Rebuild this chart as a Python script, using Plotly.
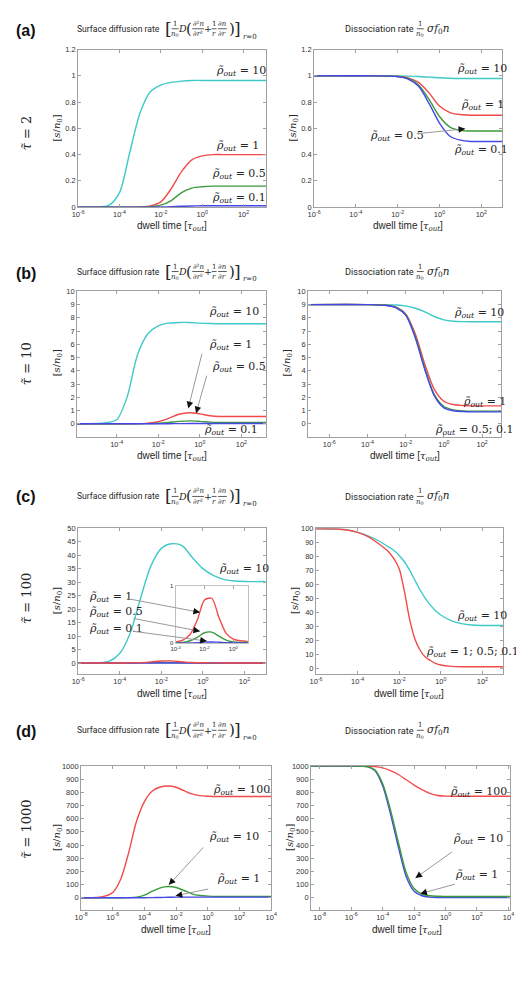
import plotly.graph_objects as go

W, H = 516, 981

# ---------------- data (x given as log10 of dwell time) ----------------
A_L_EXP = [-6, -5, -4.5, -4, -3.5, -3, -2.5, -2, -1.5, -1, -0.5, 0, 0.5, 1, 2, 3.1]
A_L_CYAN = [0, 0.002, 0.015, 0.11, 0.42, 0.72, 0.88, 0.93, 0.95, 0.96, 0.965, 0.965, 0.965, 0.965, 0.965, 0.965]
A_L_RED = [0, 0, 0, 0, 0, 0.002, 0.01, 0.04, 0.14, 0.27, 0.36, 0.39, 0.40, 0.40, 0.40, 0.40]
A_L_GREEN = [0, 0, 0, 0, 0, 0, 0.003, 0.015, 0.05, 0.11, 0.145, 0.155, 0.16, 0.16, 0.16, 0.16]
A_L_BLUE = [0, 0, 0, 0, 0, 0, 0, 0.001, 0.003, 0.007, 0.009, 0.01, 0.01, 0.01, 0.01, 0.01]

A_R_EXP = [-6, -3, -2, -1.5, -1, -0.5, 0, 0.5, 1, 1.5, 2, 3]
A_R_CYAN = [1, 1, 1, 0.998, 0.995, 0.99, 0.985, 0.982, 0.98, 0.98, 0.98, 0.98]
A_R_RED = [1, 1, 0.995, 0.985, 0.95, 0.87, 0.77, 0.72, 0.705, 0.70, 0.70, 0.70]
A_R_GREEN = [1, 1, 0.995, 0.98, 0.93, 0.82, 0.69, 0.61, 0.585, 0.58, 0.58, 0.58]
A_R_BLUE = [1, 1, 0.995, 0.975, 0.92, 0.79, 0.64, 0.54, 0.51, 0.50, 0.50, 0.50]

B_L_EXP = [-6, -5, -4.5, -4, -3.5, -3, -2.5, -2, -1.5, -1, -0.5, 0, 0.5, 1, 2, 3.2]
B_L_CYAN = [0, 0.02, 0.08, 0.3, 2.0, 5.2, 6.8, 7.4, 7.6, 7.65, 7.65, 7.6, 7.57, 7.55, 7.55, 7.55]
B_L_RED = [0, 0, 0, 0, 0, 0.01, 0.05, 0.15, 0.4, 0.72, 0.83, 0.75, 0.6, 0.55, 0.55, 0.55]
B_L_GREEN = [0, 0, 0, 0, 0, 0, 0.01, 0.04, 0.1, 0.18, 0.22, 0.18, 0.12, 0.1, 0.1, 0.1]
B_L_BLUE = [0, 0, 0, 0, 0, 0, 0, 0.002, 0.005, 0.01, 0.015, 0.02, 0.02, 0.02, 0.02, 0.02]

B_R_EXP = [-7.1, -4, -3, -2.5, -2, -1.5, -1, -0.5, 0, 0.5, 1, 1.5, 3]
B_R_CYAN = [9, 9, 8.99, 8.97, 8.9, 8.72, 8.45, 8.1, 7.85, 7.74, 7.71, 7.7, 7.7]
B_R_RED = [9, 9, 8.95, 8.8, 8.3, 6.8, 4.5, 2.6, 1.7, 1.45, 1.38, 1.35, 1.35]
B_R_GREEN = [9, 9, 8.94, 8.78, 8.25, 6.6, 4.2, 2.2, 1.3, 1.05, 0.97, 0.95, 0.95]
B_R_BLUE = [9, 9, 8.93, 8.76, 8.2, 6.5, 4.1, 2.1, 1.2, 0.98, 0.92, 0.9, 0.9]

C_L_EXP = [-6, -5, -4.5, -4, -3.5, -3, -2.5, -2, -1.5, -1, -0.5, 0, 0.5, 1, 1.5, 2, 3]
C_L_CYAN = [0, 0.1, 0.7, 3.5, 11, 24, 36, 42.5, 44.2, 43.5, 39, 35, 32.5, 31, 30.4, 30.2, 30.2]
C_L_RED = [0, 0, 0.01, 0.02, 0.05, 0.15, 0.4, 0.75, 0.78, 0.45, 0.17, 0.07, 0.04, 0.03, 0.03, 0.03, 0.03]
C_L_GREEN = [0, 0, 0, 0, 0.01, 0.04, 0.1, 0.18, 0.19, 0.12, 0.05, 0.02, 0.01, 0.01, 0.01, 0.01, 0.01]
C_L_BLUE = [0, 0, 0, 0, 0, 0.002, 0.008, 0.018, 0.02, 0.015, 0.008, 0.005, 0.004, 0.004, 0.004, 0.004, 0.004]

C_R_EXP = [-6, -5, -4.5, -4, -3.5, -3, -2.5, -2.25, -2, -1.75, -1.5, -1.25, -1, -0.75, -0.5, -0.25, 0, 0.5, 1, 1.5, 2, 3]
C_R_CYAN = [99.5, 99.4, 98.8, 97, 94.5, 91, 86.5, 84, 80.5, 76, 70, 63, 56, 50, 45, 41, 38, 34, 31.8, 30.8, 30.5, 30.5]
C_R_RED = [99.5, 99.4, 98.7, 97, 94, 89, 83, 78, 71, 55, 35, 21, 13, 8, 5.5, 3.5, 2.3, 1.3, 1, 1, 1, 1]

D_L_EXP = [-8, -7, -6.5, -6, -5.5, -5, -4.5, -4, -3.5, -3, -2.5, -2, -1.5, -1, -0.5, 0, 1, 4]
D_L_RED = [0, 2, 12, 40, 140, 340, 580, 730, 810, 840, 848, 838, 812, 788, 775, 770, 768, 768]
D_L_GREEN = [0, 0, 0, 0, 0, 1, 5, 20, 50, 75, 85, 78, 55, 30, 17, 12, 10, 10]
D_L_BLUE = [0, 0, 0, 0, 0, 0, 0, 0.5, 1, 2, 3.5, 4.5, 5, 5, 5, 5, 5, 5]

D_R_EXP = [-8.55, -6, -5, -4.5, -4, -3.5, -3, -2.5, -2, -1.5, -1, -0.5, 0, 1, 4.1]
D_R_RED = [1000, 1000, 999, 995, 985, 965, 935, 895, 855, 820, 792, 776, 771, 770, 770]
D_R_GREEN = [1000, 1000, 995, 970, 865, 665, 420, 190, 70, 28, 15, 11, 10, 10, 10]
D_R_BLUE = [1000, 1000, 995, 965, 850, 635, 385, 160, 50, 15, 5, 2, 1, 1, 1]

ROW_TAU = ["2", "10", "100", "1000"]
ROW_TAGS = ["(a)", "(b)", "(c)", "(d)"]

CYAN = "#3fc9c9"
RED = "#f24a4a"
GREEN = "#3b9a3b"
BLUE = "#4747e8"
AXC = "#a0a0a0"
TXT = "#262626"
SERIF = "DejaVu Serif"
SANS = "Liberation Sans"


def xs(exps):
    return [10 ** e for e in exps]


def pow_label(e):
    return "10<sup>%d</sup>" % e


fig = go.Figure()
layout = {}

# panel geometry in pixels: (x0, x1, y0, y1), x log range, y range, y ticks, x ticks (exponents)
panels = [
    ((73, 266, 46, 205), [-6, 3.1], [0, 1.2], [0, 0.2, 0.4, 0.6, 0.8, 1, 1.2], [-6, -4, -2, 0, 2]),
    ((315, 508, 46, 205), [-6, 3], [0, 1.2], [0, 0.2, 0.4, 0.6, 0.8, 1, 1.2], [-6, -4, -2, 0, 2]),
    ((72, 266, 290, 437), [-5.9, 3.2], [-1, 10], list(range(0, 11)), [-6, -4, -2, 0, 2]),
    ((309, 507, 290, 437), [-7.1, 3.0], [-1, 10], list(range(0, 11)), [-6, -4, -2, 0, 2]),
    ((73, 266, 529, 676), [-6, 3.05], [-4, 50], list(range(0, 51, 5)), [-6, -4, -2, 0, 2]),
    ((317, 509, 529, 676), [-6, 3], [-4, 100], list(range(0, 101, 10)), [-6, -4, -2, 0, 2]),
    ((76, 271, 769, 914), [-8, 4], [-90, 1000], list(range(0, 1001, 100)), [-8, -6, -4, -2, 0, 2, 4]),
    ((312, 516, 769, 914), [-8.55, 4.1], [-90, 1000], list(range(0, 1001, 100)), [-8, -6, -4, -2, 0, 2, 4]),
    ((173, 247, 587, 645), [-4, 1], [0, 1], [0, 1], [-4, -2, 0]),  # inset
]


def ylab(v):
    if abs(v - round(v)) < 1e-9:
        return str(int(round(v)))
    return ("%g" % v)


for i, (box, xr, yr, yt, xt) in enumerate(panels):
    k = "" if i == 0 else str(i + 1)
    x0, x1, y0, y1 = box
    inset = i == 8
    fs = 6 if inset else 7.5
    lc = "#c0c0c0" if inset else AXC
    layout["xaxis" + k] = dict(
        domain=[x0 / W, x1 / W], anchor="y" + k, type="log", range=xr,
        tickvals=[10 ** e for e in xt], ticktext=[pow_label(e) for e in xt],
        ticks="inside", ticklen=3, tickcolor=AXC, showline=True, linecolor=lc,
        linewidth=1, mirror="ticks", showgrid=False, zeroline=False,
        tickfont=dict(family=SANS, size=fs, color="#333"),
    )
    layout["yaxis" + k] = dict(
        domain=[1 - y1 / H, 1 - y0 / H], anchor="x" + k, range=yr,
        tickvals=yt, ticktext=[ylab(v) for v in yt],
        ticks="inside", ticklen=3, tickcolor=AXC, showline=True, linecolor=lc,
        linewidth=1, mirror="ticks", showgrid=False, zeroline=False,
        tickfont=dict(family=SANS, size=fs, color="#333"),
    )

series = [
    (0, A_L_EXP, [(A_L_CYAN, CYAN), (A_L_RED, RED), (A_L_GREEN, GREEN), (A_L_BLUE, BLUE)]),
    (1, A_R_EXP, [(A_R_CYAN, CYAN), (A_R_RED, RED), (A_R_GREEN, GREEN), (A_R_BLUE, BLUE)]),
    (2, B_L_EXP, [(B_L_CYAN, CYAN), (B_L_RED, RED), (B_L_GREEN, GREEN), (B_L_BLUE, BLUE)]),
    (3, B_R_EXP, [(B_R_CYAN, CYAN), (B_R_RED, RED), (B_R_GREEN, GREEN), (B_R_BLUE, BLUE)]),
    (4, C_L_EXP, [(C_L_CYAN, CYAN), (C_L_GREEN, GREEN), (C_L_BLUE, BLUE), (C_L_RED, RED)]),
    (5, C_R_EXP, [(C_R_CYAN, CYAN), (C_R_RED, RED)]),
    (6, D_L_EXP, [(D_L_RED, RED), (D_L_GREEN, GREEN), (D_L_BLUE, BLUE)]),
    (7, D_R_EXP, [(D_R_RED, RED), (D_R_BLUE, BLUE), (D_R_GREEN, GREEN)]),
    (8, C_L_EXP, [(C_L_RED, RED), (C_L_GREEN, GREEN), (C_L_BLUE, BLUE)]),
]

for idx, exps, curves in series:
    k = "" if idx == 0 else str(idx + 1)
    for ys, col in curves:
        fig.add_trace(go.Scatter(
            x=xs(exps), y=ys, mode="lines", xaxis="x" + k, yaxis="y" + k,
            line=dict(color=col, width=1.4, shape="spline", smoothing=0.8),
            showlegend=False, hoverinfo="skip", cliponaxis=True,
        ))

ann = []
shapes = []


def P(x, y):
    return x / W, 1 - y / H


def text(x, y, t, size=10, family=SANS, xanchor="center", angle=0, color=TXT):
    px, py = P(x, y)
    ann.append(dict(x=px, y=py, xref="paper", yref="paper", text=t, showarrow=False,
                    xanchor=xanchor, yanchor="middle", textangle=angle,
                    font=dict(family=family, size=size, color=color)))


def hbar(x0, x1, y):
    a, b = P(x0, y)
    c, d = P(x1, y)
    shapes.append(dict(type="line", xref="paper", yref="paper", x0=a, x1=c, y0=b, y1=d,
                       line=dict(color="#333", width=0.8)))


def frac(xc, y, num, den, half):
    text(xc, y - 5, num, size=7, family=SERIF)
    text(xc, y + 5.5, den, size=7, family=SERIF)
    hbar(xc - half, xc + half, y)


def rho(x, y, val):
    text(x, y, "<i>ρ̃<sub>out</sub></i> = " + val, size=11, family=SERIF, xanchor="left")


def arrow(tx, ty, hx, hy):
    px, py = P(hx, hy)
    ann.append(dict(x=px, y=py, xref="paper", yref="paper", text="", showarrow=True,
                    ax=tx - hx, ay=ty - hy, arrowhead=0, arrowwidth=1, arrowcolor="#9a9a9a"))
    dx, dy = tx - hx, ty - hy
    L = (dx * dx + dy * dy) ** 0.5
    ann.append(dict(x=px, y=py, xref="paper", yref="paper", text="", showarrow=True,
                    ax=dx / L * 8, ay=dy / L * 8, arrowhead=2, arrowsize=1.1, arrowwidth=1.2,
                    arrowcolor="#111"))


def left_title(y):
    text(70, y, "Surface diffusion rate", size=8.6, family="Roboto", xanchor="left")
    text(166, y, "[", size=17, family=SERIF)
    frac(172.5, y, "1", "<i>n</i><sub>0</sub>", 3.5)
    text(180.5, y, "<i>D</i>", size=9.5, family=SERIF)
    text(187, y, "(", size=15, family=SERIF)
    frac(196, y, "∂²<i>n</i>", "∂<i>r</i>²", 6)
    text(206.5, y, "+", size=9.5, family=SERIF)
    frac(212.5, y, "1", "<i>r</i>", 2.5)
    frac(221, y, "∂<i>n</i>", "∂<i>r</i>", 4.5)
    text(230.5, y, ")", size=15, family=SERIF)
    text(236, y, "]", size=17, family=SERIF)
    text(240, y + 8, "<i>r</i>=0", size=7, family=SERIF, xanchor="left")


def right_title(y):
    text(345, y, "Dissociation rate", size=9.2, family="Roboto", xanchor="left")
    frac(424, y, "1", "<i>n</i><sub>0</sub>", 3.5)
    text(429, y, "<i>σf</i><sub>0</sub><i>n</i>", size=10.5, family=SERIF, xanchor="left")


# row tags, tau labels, titles
row_tag_y = [27, 272, 497, 734]
title_y = [25, 270, 497, 733]
tau_y = [130, 363, 600, 833]
ylab_y = [125, 362, 602, 841]
xlab_y = [225, 457, 697, 935]
YTITLE = "[<i>s</i>/<i>n</i><sub>0</sub>]"
XTITLE = "dwell time [<span style='font-family:DejaVu Serif'><i>τ<sub>out</sub></i></span>]"

for r in range(4):
    text(19, row_tag_y[r], "<b>" + ROW_TAGS[r] + "</b>", size=16, family=SANS, color="#111")
    text(20, tau_y[r], "<i>τ̃</i> = " + ROW_TAU[r], size=13, family=SERIF, angle=-90)
    left_title(title_y[r])
    right_title(title_y[r])
    lb = panels[2 * r][0]
    rb = panels[2 * r + 1][0]
    text(52, ylab_y[r], YTITLE, size=10, family=SERIF, angle=-90)
    text(rb[0] - 21, ylab_y[r], YTITLE, size=10, family=SERIF, angle=-90)
    text((lb[0] + lb[1]) / 2, xlab_y[r], XTITLE, size=10, family=SANS)
    text((rb[0] + min(rb[1], 508)) / 2, xlab_y[r], XTITLE, size=10, family=SANS)

# (a)
rho(212, 68, "10"); rho(212, 143, "1"); rho(208, 172, "0.5"); rho(208, 196, "0.1")
rho(460, 66, "10"); rho(464, 102, "1"); rho(370, 133, "0.5"); rho(457, 147, "0.1")
arrow(420, 131, 470, 126)
# (b)
rho(205, 311, "10"); rho(205, 344, "1"); rho(208, 366, "0.5"); rho(200, 430, "0.1")
arrow(200, 352, 186, 408); arrow(205, 374, 194, 413)
rho(456, 312, "10"); rho(466, 402, "1"); rho(437, 430, "0.5; 0.1")
# (c)
rho(215, 570, "10"); rho(82, 598, "1"); rho(82, 614, "0.5"); rho(82, 631, "0.1")
arrow(124, 600, 198, 614); arrow(130, 620, 198, 633); arrow(130, 633, 205, 643)
rho(460, 618, "10"); rho(428, 654, "1; 0.5; 0.1")
# (d)
rho(209, 793, "100"); rho(205, 841, "10"); rho(213, 883, "1")
arrow(202, 850, 166, 889); arrow(207, 893, 173, 900)
rho(452, 795, "100"); rho(455, 843, "10"); rho(458, 879, "1")
arrow(457, 855, 419, 882); arrow(460, 888, 424, 898)

layout.update(dict(
    width=W, height=H, margin=dict(l=0, r=0, t=0, b=0),
    paper_bgcolor="white", plot_bgcolor="white", showlegend=False,
    annotations=ann, shapes=shapes,
))
fig.update_layout(**layout)
fig.write_html("out.html")
